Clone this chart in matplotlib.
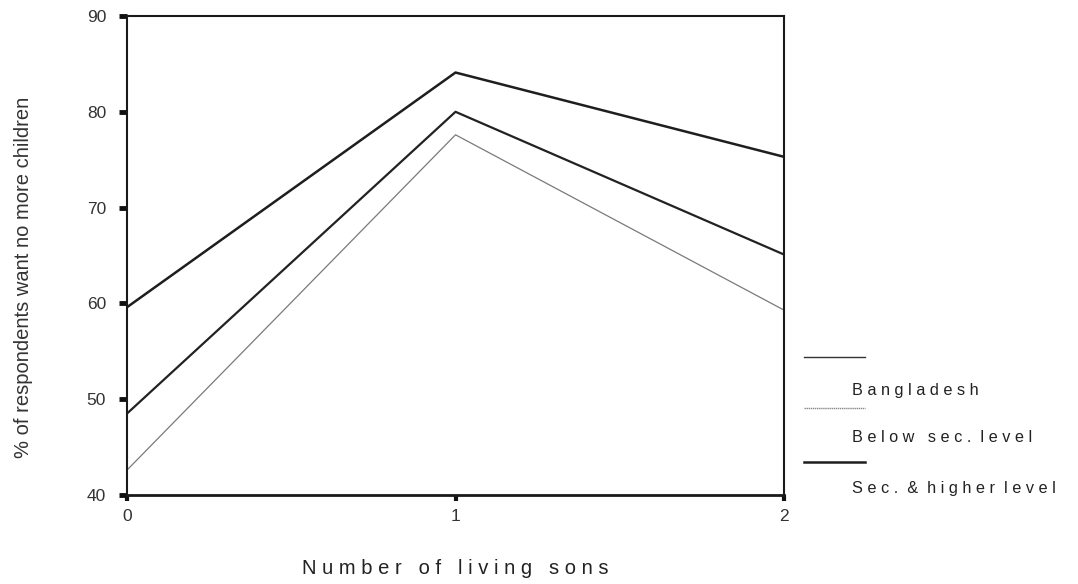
import matplotlib.pyplot as plt
from matplotlib.lines import Line2D

# data
sons = [0, 1, 2]
bangladesh = [48.5, 80.0, 65.1]
below_sec = [42.6, 77.6, 59.3]
sec_higher = [59.6, 84.1, 75.3]
y_ticks = [40, 50, 60, 70, 80, 90]

plt.rcParams['font.family'] = ['Liberation Sans', 'DejaVu Sans']

fig = plt.figure(figsize=(10.78, 5.84), dpi=100)
ax = fig.add_axes([0.1178, 0.1524, 0.6095, 0.8202])

# the three series
ax.plot(sons, bangladesh, color='#222222', lw=1.6)
ax.plot(sons, below_sec, color='#7a7a7a', lw=0.9)
ax.plot(sons, sec_higher, color='#1e1e1e', lw=1.8)

ax.set_xlim(0, 2)
ax.set_ylim(40, 90)
ax.set_xticks(sons)
ax.set_yticks(y_ticks)
ax.set_yticklabels([str(v) for v in y_ticks], fontsize=12.5, color='#333333')
ax.set_xticklabels([str(v) for v in sons], fontsize=12.5, color='#333333')

for s in ax.spines.values():
    s.set_linewidth(1.5)
    s.set_color('#1a1a1a')
ax.spines['bottom'].set_linewidth(2)

ax.tick_params(axis='y', direction='out', length=6, width=3.5, pad=9, color='#111111')
ax.tick_params(axis='x', direction='out', length=4, width=3, pad=6, color='#111111')

ax.set_xlabel('N u m b e r   o f   l i v i n g   s o n s', fontsize=14.5, labelpad=25,
              color='#222222')
ax.set_ylabel('% of respondents want no more children', fontsize=14.5,
              color='#333333')
ax.yaxis.set_label_coords(-0.143, 0.455)

# legend drawn the way the scan shows it: line, then label underneath
leg_line_y = [1 - 357 / 584, 1 - 408 / 584, 1 - 462 / 584]
leg_text_y = [1 - 390 / 584, 1 - 437 / 584, 1 - 488 / 584]
leg_styles = [dict(color='#333333', lw=1.0),
              dict(color='#888888', lw=1.0, ls=(0, (1, 0.5))),
              dict(color='#1e1e1e', lw=1.8)]
spaced = ['B a n g l a d e s h',
          'B e l o w   s e c .  l e v e l',
          'S e c .  &  h i g h e r  l e v e l']
for ly, ty, st, name in zip(leg_line_y, leg_text_y, leg_styles, spaced):
    fig.add_artist(Line2D([804 / 1078, 865 / 1078], [ly, ly], **st))
    fig.text(852 / 1078, ty, name, fontsize=11.7, color='#222222', va='center', ha='left')

plt.savefig('out.png', dpi=100)
